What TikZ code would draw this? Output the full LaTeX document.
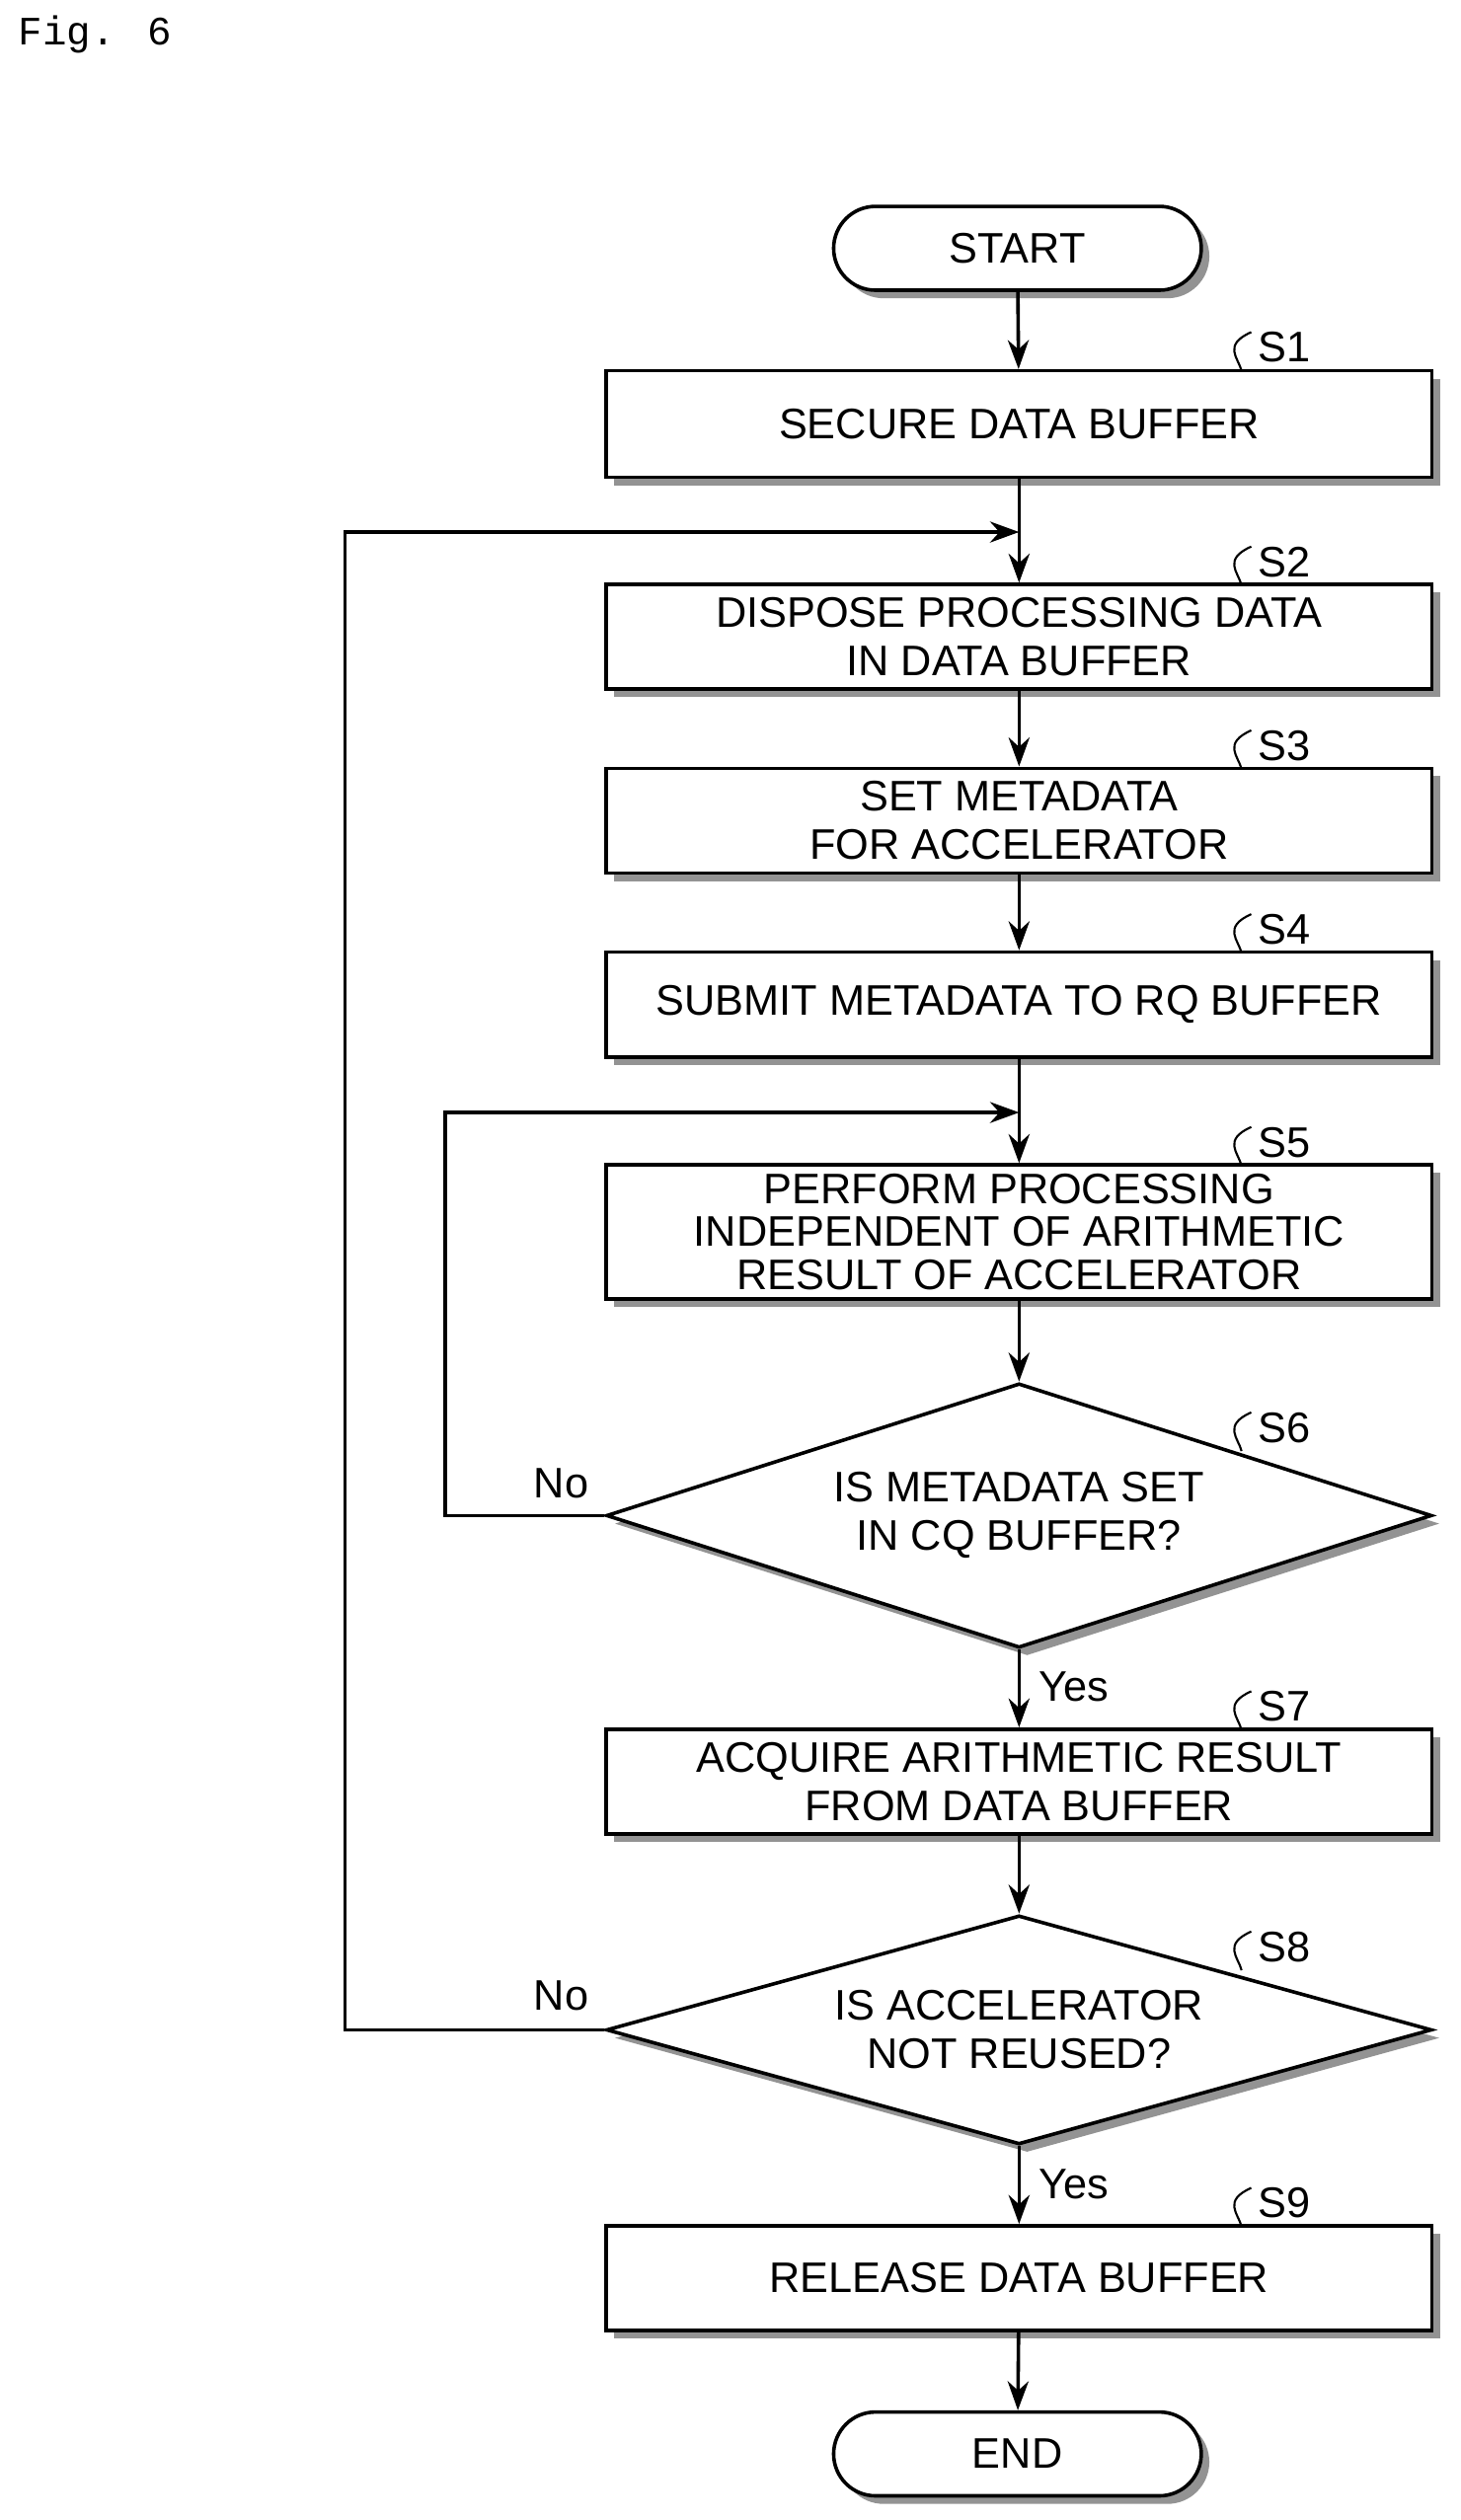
\documentclass[tikz,border=0pt]{standalone}
\usepackage{fontspec}
\setmainfont{Liberation Sans}
\newfontfamily\monof{Liberation Mono}
\usetikzlibrary{shapes.geometric,shadows,arrows.meta}
\begin{document}
\begin{tikzpicture}[x=1pt,y=-1pt,
  sh/.style={drop shadow={shadow xshift=5pt,shadow yshift=-5pt,fill=gray!85,opacity=1}},
  box/.style={draw,line width=2.2pt,fill=white,sh,minimum width=512pt,inner sep=0pt,align=center,font=\fontsize{26.5}{30}\selectfont},
  term/.style={draw,line width=2.2pt,fill=white,sh,rounded corners=26pt,minimum width=228pt,minimum height=52pt,font=\fontsize{26.5}{30}\selectfont},
  dia/.style={draw,line width=2.2pt,fill=white,sh,diamond,minimum width=512pt,inner sep=0pt},
  txt/.style={align=center,font=\fontsize{26.5}{30}\selectfont},
  lab/.style={font=\fontsize{26.5}{30}\selectfont},
  ar/.style={line width=2.2pt,-{Stealth[length=18pt,width=13pt]}},
  ln/.style={line width=2.2pt}]
\useasboundingbox (0,0) rectangle (906,1563);
\node[anchor=north west,font=\monof\fontsize{25}{28}\selectfont] (fig) at (8,6) {Fig. 6};
\node[term] (start) at (631,154) {START};
\node[box,minimum height=66pt] (s1) at (632,263) {SECURE DATA BUFFER};
\node[box,minimum height=65pt] (s2) at (632,395) {DISPOSE PROCESSING DATA\\IN DATA BUFFER};
\node[box,minimum height=65pt] (s3) at (632,509) {SET METADATA\\FOR ACCELERATOR};
\node[box,minimum height=65pt] (s4) at (632,623) {SUBMIT METADATA TO RQ BUFFER};
\node[box,minimum height=83pt,font=\fontsize{26.5}{26.5}\selectfont] (s5) at (632,764) {PERFORM PROCESSING\\INDEPENDENT OF ARITHMETIC\\RESULT OF ACCELERATOR};
\node[dia,minimum height=164pt] (s6) at (632,940) {};
\node[txt] (s6t) at (632,940) {IS METADATA SET\\IN CQ BUFFER?};
\node[box,minimum height=65pt] (s7) at (632,1105) {ACQUIRE ARITHMETIC RESULT\\FROM DATA BUFFER};
\node[dia,minimum height=142pt] (s8) at (632,1259) {};
\node[txt] (s8t) at (632,1259) {IS ACCELERATOR\\NOT REUSED?};
\node[box,minimum height=65pt] (s9) at (632,1413) {RELEASE DATA BUFFER};
\node[term] (end) at (631,1522) {END};
% step labels
\foreach \n/\y in {s1/230,s2/363,s3/477,s4/591,s5/723,s7/1073,s9/1381}{
  \coordinate (\n c) at (770,\y);}
\coordinate (s6c) at (770,900);
\coordinate (s8c) at (770,1222);
\foreach \n/\t in {s1/S1,s2/S2,s3/S3,s4/S4,s5/S5,s6/S6,s7/S7,s8/S8,s9/S9}{
  \node[lab,anchor=south west,inner sep=0pt] (\n l) at ([xshift=10pt,yshift=5pt]\n c) {\t};
  \draw[line width=1.3pt] (\n c) .. controls ([xshift=-2pt,yshift=8pt]\n c) and ([xshift=-12pt,yshift=16pt]\n c) .. ([xshift=6pt,yshift=24pt]\n c);
}
% flow
\draw[ar] (start) -- (s1);
\draw[ar] (s1) -- (s2);
\draw[ar] (s2) -- (s3);
\draw[ar] (s3) -- (s4);
\draw[ar] (s4) -- (s5);
\draw[ar] (s5) -- (s6);
\draw[ar] (s6) -- (s7);
\draw[ar] (s7) -- (s8);
\draw[ar] (s8) -- (s9);
\draw[ar] (s9) -- (end);
\coordinate (j2) at (632,330);
\coordinate (j5) at (632,690);
\draw[ar] (s6.west) -- (276,940) -- (276,690) -- (j5);
\draw[ar] (s8.west) -- (214,1259) -- (214,330) -- (j2);
\node[lab] (no1) at (348,920) {No};
\node[lab] (no2) at (348,1238) {No};
\node[lab] (yes1) at (666,1046) {Yes};
\node[lab] (yes2) at (666,1355) {Yes};
\end{tikzpicture}
\end{document}
